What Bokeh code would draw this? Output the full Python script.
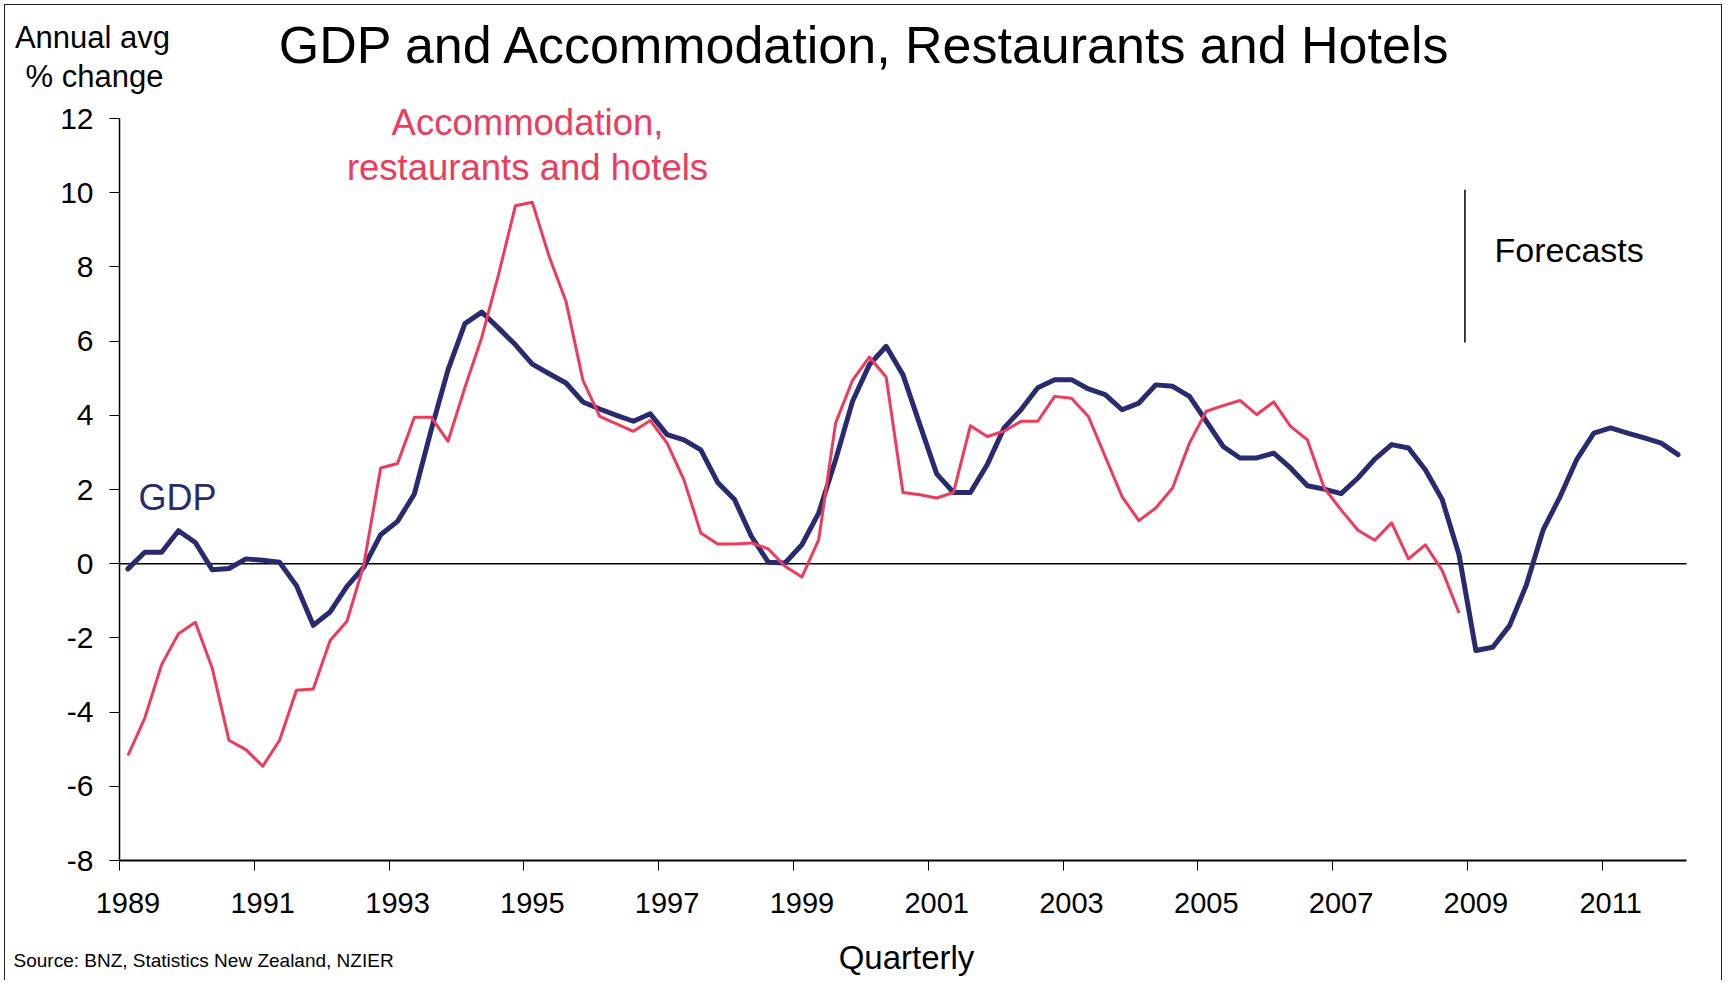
from bokeh.plotting import figure
from bokeh.models import FixedTicker, Label, Range1d
from bokeh.embed import file_html
from bokeh.resources import INLINE

# ---- data (quarterly, annual average % change, 1989Q1 onwards) ----
gdp = [-0.14, 0.31, 0.31, 0.89, 0.57, -0.16, -0.13, 0.13, 0.09, 0.04,
       -0.59, -1.66, -1.30, -0.61, -0.09, 0.78, 1.14, 1.88, 3.61, 5.23,
       6.47, 6.78, 6.35, 5.90, 5.38, 5.12, 4.87, 4.36, 4.17, 4.00,
       3.84, 4.04, 3.48, 3.34, 3.07, 2.19, 1.73, 0.74, 0.04, 0.02,
       0.51, 1.37, 2.80, 4.37, 5.36, 5.86, 5.09, 3.75, 2.42, 1.92,
       1.92, 2.67, 3.66, 4.15, 4.74, 4.96, 4.96, 4.71, 4.56, 4.15,
       4.33, 4.82, 4.78, 4.51, 3.84, 3.16, 2.85, 2.85, 2.98, 2.58,
       2.10, 2.01, 1.89, 2.31, 2.82, 3.21, 3.12, 2.53, 1.73, 0.24,
       -2.34, -2.25, -1.67, -0.57, 0.92, 1.81, 2.82, 3.52, 3.66, 3.52,
       3.39, 3.25, 2.94]

accommodation = [-5.17, -4.16, -2.72, -1.89, -1.58, -2.81, -4.76, -5.01, -5.46, -4.76,
                 -3.41, -3.38, -2.07, -1.55, -0.03, 2.58, 2.70, 3.95, 3.95, 3.30,
                 4.75, 6.10, 7.80, 9.65, 9.74, 8.28, 7.07, 4.95, 3.97, 3.77,
                 3.57, 3.86, 3.25, 2.26, 0.83, 0.53, 0.53, 0.56, 0.40, -0.07,
                 -0.36, 0.65, 3.79, 4.94, 5.57, 5.03, 1.92, 1.86, 1.77, 1.92,
                 3.72, 3.43, 3.57, 3.84, 3.84, 4.51, 4.46, 3.97, 2.89, 1.81,
                 1.16, 1.50, 2.04, 3.25, 4.11, 4.26, 4.40, 4.02, 4.36, 3.70,
                 3.34, 2.04, 1.45, 0.90, 0.63, 1.10, 0.13, 0.51, -0.18, -1.33]

year_labels = ["1989", "1991", "1993", "1995", "1997", "1999",
               "2001", "2003", "2005", "2007", "2009", "2011"]
quarters_per_label = 8
y_ticks = [-8, -6, -4, -2, 0, 2, 4, 6, 8, 10, 12]
y_min, y_max = -8, 12
forecast_start = 79.35          # quarter index where the forecasts begin

NAVY = "#282B70"
RED = "#EE3A5B"
FONT = "Liberation Sans"

# ---- layout (pixels of the page) ----
W, H = 1718, 976
ORIGIN = 5                       # canvas starts at page (5, 5)
AX_LEFT, AX_RIGHT = 119, 1686    # plot area, page x
AX_TOP, AX_BOTTOM = 118, 860     # plot area, page y

n_q = len(gdp)
x_lo, x_hi = -0.5, n_q - 0.5
px_per_x = (AX_RIGHT - AX_LEFT) / (x_hi - x_lo)
px_per_y = (AX_BOTTOM - AX_TOP) / (y_max - y_min)


def to_x(page_x):
    return x_lo + (page_x - AX_LEFT) / px_per_x


def to_y(page_y):
    return y_max - (page_y - AX_TOP) / px_per_y


x_range = Range1d(to_x(ORIGIN), to_x(ORIGIN + W))
y_range = Range1d(to_y(ORIGIN + H), to_y(ORIGIN))

p = figure(width=W, height=H, output_backend="svg", toolbar_location=None,
           x_range=x_range, y_range=y_range, min_border=0)
p.styles = {"margin-left": "4px", "margin-top": "4px",
            "border-top": "1px solid #222", "border-left": "1px solid #222",
            "border-right": "1px solid #222"}
p.xgrid.visible = False
p.ygrid.visible = False
p.outline_line_color = None
p.background_fill_color = "white"
p.border_fill_color = "white"

x_gdp = list(range(n_q))
x_acc = list(range(len(accommodation)))

# zero line across the plot area
p.segment(x0=[x_lo], y0=[0], x1=[x_hi], y1=[0], line_color="black", line_width=1.5)

p.line(x_gdp, gdp, line_color=NAVY, line_width=5, line_join="round", line_cap="round")
p.line(x_acc, accommodation, line_color=RED, line_width=3, line_join="round")

# forecast divider
p.segment(x0=[forecast_start], y0=[5.96], x1=[forecast_start], y1=[10.08],
          line_color="black", line_width=1.5)

# x axis: labels at category centres, tick marks at category boundaries
label_pos = [k * quarters_per_label for k in range(len(year_labels))]
xa = p.xaxis[0]
xa.fixed_location = y_min
xa.bounds = (x_lo, x_hi)
xa.ticker = FixedTicker(ticks=label_pos, minor_ticks=[t - 0.5 for t in label_pos])
xa.major_label_overrides = {t: lab for t, lab in zip(label_pos, year_labels)}
xa.major_tick_out = 0
xa.major_tick_in = 0
xa.minor_tick_out = 10
xa.minor_tick_in = 0
xa.minor_tick_line_color = "black"
xa.minor_tick_line_width = 1
xa.axis_line_color = "black"
xa.axis_line_width = 2
xa.major_label_standoff = 22
xa.major_label_text_font = FONT
xa.major_label_text_font_size = "29px"
xa.major_label_text_color = "black"

ya = p.yaxis[0]
ya.fixed_location = x_lo
ya.bounds = (y_min, y_max)
ya.ticker = FixedTicker(ticks=y_ticks)
ya.major_label_overrides = {v: str(v) for v in y_ticks}
ya.major_tick_out = 10
ya.major_tick_in = 0
ya.minor_tick_line_color = None
ya.major_tick_line_color = "black"
ya.axis_line_color = "black"
ya.axis_line_width = 1.5
ya.major_label_standoff = 16
ya.major_label_text_font = FONT
ya.major_label_text_font_size = "30px"
ya.major_label_text_color = "black"

BASELINE_FIX = 0.35   # observed offset of the drawn baseline, in em


def add_text(page_x, page_y, text, size, color="black", align="left"):
    y_adj = page_y - BASELINE_FIX * size
    p.add_layout(Label(x=to_x(page_x), y=to_y(y_adj), text=text, text_font=FONT,
                       text_font_size=f"{size}px", text_color=color, text_align=align,
                       text_baseline="alphabetic"))


add_text(865, 63, "GDP and Accommodation, Restaurants and Hotels", 52, align="center")
add_text(92, 48, "Annual avg", 31, align="center")
add_text(94, 87, "% change", 31, align="center")
add_text(527, 135, "Accommodation,", 36.5, color=RED, align="center")
add_text(527, 180, "restaurants and hotels", 36.5, color=RED, align="center")
add_text(138, 510, "GDP", 36, color=NAVY)
add_text(1494, 261, "Forecasts", 34)
add_text(13, 967, "Source: BNZ, Statistics New  Zealand, NZIER", 19)
add_text(906, 969, "Quarterly", 33, align="center")

open("out.html", "w").write(file_html(p, INLINE))
